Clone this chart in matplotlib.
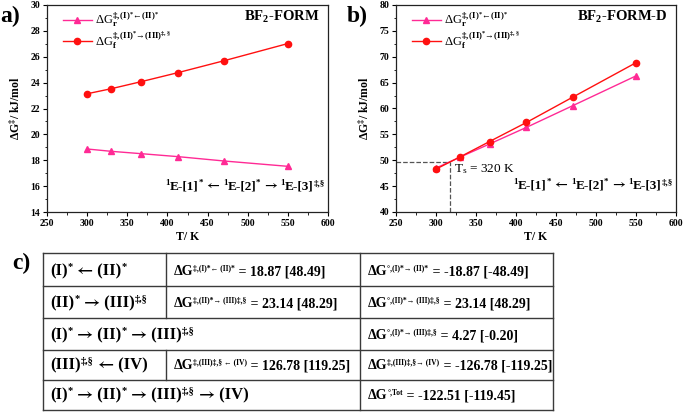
import numpy as np
import matplotlib
matplotlib.use('Agg')
import matplotlib.pyplot as plt
from matplotlib.ticker import MultipleLocator

plt.rcParams['font.family'] = ['Liberation Serif', 'DejaVu Serif']
plt.rcParams['mathtext.fontset'] = 'custom'
plt.rcParams['mathtext.rm'] = 'Liberation Serif'
plt.rcParams['mathtext.it'] = 'Liberation Serif:italic'
plt.rcParams['mathtext.bf'] = 'Liberation Serif:bold'
plt.rcParams['mathtext.default'] = 'bf'
plt.rcParams['mathtext.fallback'] = 'stix'

# temperatures (K)
temps = [300, 330, 367, 413, 471, 550]

# panel a: BF2-FORM
dg_r_form = [18.87, 18.69, 18.51, 18.28, 17.94, 17.53]
dg_f_form = [23.14, 23.53, 24.07, 24.77, 25.70, 27.02]

# panel b: BF2-FORM-D
dg_r_formd = [48.49, 50.60, 53.15, 56.35, 60.55, 66.30]
dg_f_formd = [48.29, 50.64, 53.62, 57.30, 62.20, 68.85]
t_switch = 318
g_switch = 49.7

# panel c: table values  [BF2-FORM-D in brackets]
row_names = ["(I)^{*} ← (II)^{*}",
             "(II)^{*} → (III)^{‡,§}",
             "(I)^{*} → (II)^{*} → (III)^{‡,§}",
             "(III)^{‡,§} ← (IV)",
             "(I)^{*} → (II)^{*} → (III)^{‡,§} → (IV)"]
act_syms = ["‡,(I)*← (II)*", "‡,(II)*→ (III)‡,§", None, "‡,(III)‡,§ ← (IV)", None]
act_vals = [18.87, 23.14, None, 126.78, None]
act_vals_d = [48.49, 48.29, None, 119.25, None]
rxn_syms = ["°,(I)*→ (II)*", "°,(II)*→ (III)‡,§", "°,(I)*→ (III)‡,§",
            "‡,(III)‡,§→ (IV)", "°,Tot"]
rxn_vals = [-18.87, 23.14, 4.27, -126.78, -122.51]
rxn_vals_d = [-48.49, 48.29, -0.20, -119.25, -119.45]

pink = '#FF2A95'
red = '#FF1010'

lab_r = "ΔG$_{r}^{‡,(I)^{*}←(II)^{*}}$"
lab_f = "ΔG$_{f}^{‡,(II)^{*}→(III)^{‡,§}}$"
scheme = "^{1}E-[1]^{*} ← ^{1}E-[2]^{*} → ^{1}E-[3]^{‡,§}"

fig = plt.figure(figsize=(6.85, 4.12), dpi=100)
W, H = 685, 412
renderer = fig.canvas.get_renderer()


def parse(s):
    # split into (text, kind) with kind 'n' normal, 's' superscript, 'a' arrow
    out, buf, i = [], '', 0
    while i < len(s):
        if s.startswith('^{', i):
            if buf:
                out.append((buf, 'n'))
                buf = ''
            j = s.index('}', i)
            out.append((s[i + 2:j], 's'))
            i = j + 1
        elif s[i] in '←→':
            if buf:
                out.append((buf, 'n'))
                buf = ''
            out.append((s[i], 'a'))
            i += 1
        else:
            buf += s[i]
            i += 1
    if buf:
        out.append((buf, 'n'))
    return out


def rich_text(ax, x, y, parts, size, sup_size, rise, ha='left', weight='bold'):
    # draw pieces one after another in pixel coordinates of the overlay axes
    texts = []
    cx = 0
    for txt, kind in parts:
        kw = dict(fontsize=size, fontweight=weight, ha='left', va='baseline')
        dy = 0
        if kind == 's':
            kw['fontsize'] = sup_size
            dy = rise
        elif kind == 'a':
            kw['family'] = 'STIXGeneral'
        t = ax.text(cx, y - dy, txt, **kw)
        w = t.get_window_extent(renderer).width
        texts.append((t, cx, dy))
        cx += w
    shift = x - cx if ha == 'right' else x
    for t, px, dy in texts:
        t.set_position((px + shift, y - dy))


def style_axes(ax, ymin, ymax, ymaj, ymin_step):
    ax.set_xlim(250, 600)
    ax.set_ylim(ymin, ymax)
    ax.xaxis.set_major_locator(MultipleLocator(50))
    ax.xaxis.set_minor_locator(MultipleLocator(25))
    ax.yaxis.set_major_locator(MultipleLocator(ymaj))
    ax.yaxis.set_minor_locator(MultipleLocator(ymin_step))
    ax.tick_params(which='major', direction='out', length=3, width=0.8,
                   labelsize=7, pad=2, top=False, right=False)
    ax.tick_params(which='minor', direction='out', length=1.8, width=0.6,
                   top=False, right=False)
    for lab in ax.get_xticklabels() + ax.get_yticklabels():
        lab.set_fontweight('bold')
    for s in ax.spines.values():
        s.set_linewidth(0.9)
        s.set_color('#222222')
    ax.set_xlabel("T/ K", fontsize=8.5, fontweight='bold', labelpad=2)
    ax.set_ylabel("ΔG$^{‡}$/ kJ/mol", fontsize=8.5, fontweight='bold', labelpad=5)


def draw_panel(ax, gr, gf, title):
    ax.plot(temps, gr, '-^', color=pink, ms=4.5, lw=1, label=lab_r)
    ax.plot(temps, gf, '-o', color=red, ms=4.5, lw=1, label=lab_f)
    ax.legend(loc='upper left', bbox_to_anchor=(0.03, 1.01), frameon=False,
              fontsize=9, handlelength=2.3, handletextpad=0.3, labelspacing=0.0,
              borderaxespad=0.2)
    ax.text(0.97, 0.94, title, transform=ax.transAxes, ha='right', va='center',
            fontsize=10.5, fontweight='bold')


ax_a = fig.add_axes([47 / W, 1 - 212 / H, 281 / W, 207 / H])
draw_panel(ax_a, dg_r_form, dg_f_form, "BF$_{2}$-FORM")
style_axes(ax_a, 14, 30, 2, 1)

ax_b = fig.add_axes([396 / W, 1 - 212 / H, 280 / W, 207 / H])
ax_b.plot([250, t_switch], [g_switch, g_switch], '--', color='#555555', lw=0.9)
ax_b.plot([t_switch, t_switch], [40, g_switch], '--', color='#555555', lw=0.9)
draw_panel(ax_b, dg_r_formd, dg_f_formd, "BF$_{2}$-FORM-D")
ax_b.text(t_switch + 5, 48.3, "T$_\\mathrm{s}$ = %d K" % 320, ha='left', va='center',
          fontsize=9.5)
style_axes(ax_b, 40, 80, 5, 2.5)

# overlay for panel letters, schemes and table (pixel coordinates)
ov = fig.add_axes([0, 0, 1, 1])
ov.set_xlim(0, W)
ov.set_ylim(H, 0)
ov.axis('off')

ov.text(0, 16, "a)", fontsize=17, fontweight='bold', ha='left', va='center')
ov.text(347, 16, "b)", fontsize=17, fontweight='bold', ha='left', va='center')
ov.text(12, 263, "c)", fontsize=17, fontweight='bold', ha='left', va='center')

rich_text(ov, 325, 189, parse(scheme), 9.5, 6.5, 4, ha='right')
rich_text(ov, 673, 188, parse(scheme), 9.5, 6.5, 4, ha='right')

row_edges = [253, 286, 318, 350, 380, 410]
col_edges = [43, 166, 360, 553]
lc = '#3a3a3a'
for y in row_edges:
    ov.plot([col_edges[0], col_edges[-1]], [y, y], color=lc, lw=1)
ov.plot([col_edges[0]] * 2, [row_edges[0], row_edges[-1]], color=lc, lw=1)
ov.plot([col_edges[-1]] * 2, [row_edges[0], row_edges[-1]], color=lc, lw=1)
ov.plot([col_edges[2]] * 2, [row_edges[0], row_edges[-1]], color=lc, lw=1)
for i in range(5):
    y0, y1 = row_edges[i], row_edges[i + 1]
    base = y1 - 11
    if act_syms[i] is not None:
        ov.plot([col_edges[1]] * 2, [y0, y1], color=lc, lw=1)
        parts = [("ΔG", 'n'), (act_syms[i], 's'),
                 (" = %.2f [%.2f]" % (act_vals[i], act_vals_d[i]), 'n')]
        rich_text(ov, col_edges[1] + 8, base, parts, 10, 5.5, 5)
    rich_text(ov, col_edges[0] + 7, base, parse(row_names[i]), 12, 7.5, 6)
    parts = [("ΔG", 'n'), (rxn_syms[i], 's'),
             (" = %.2f [%.2f]" % (rxn_vals[i], rxn_vals_d[i]), 'n')]
    rich_text(ov, col_edges[2] + 8, base, parts, 10, 5.5, 5)

fig.savefig('out.png', dpi=100)
